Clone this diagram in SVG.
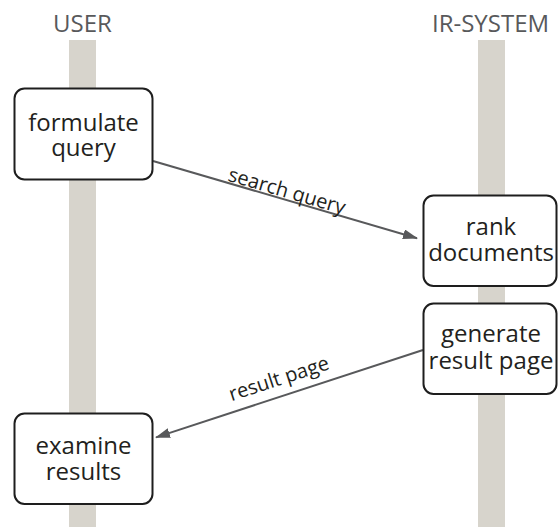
<svg xmlns="http://www.w3.org/2000/svg" width="558" height="527" viewBox="0 0 558 527">
  <defs>
    <marker id="arrow" markerUnits="userSpaceOnUse" markerWidth="16" markerHeight="11" refX="14" refY="5" orient="auto">
      <path d="M0,0 L15,5 L0,10 Z" fill="#58595b"/>
    </marker>
    <style>
      .lifeline { fill: #d7d4cc; }
      .actor { font-family: "Open Sans", "Liberation Sans", sans-serif; font-size: 24px; fill: #58595b; text-anchor: middle; }
      .box { fill: #ffffff; stroke: #1e1e1e; stroke-width: 2; }
      .box-text { font-family: "Open Sans", "Liberation Sans", sans-serif; font-size: 24px; fill: #231f20; text-anchor: middle; }
      .msg { fill: none; stroke: #58595b; stroke-width: 2; marker-end: url(#arrow); }
      .msg-label { font-family: "Open Sans", "Liberation Sans", sans-serif; font-size: 20px; fill: #231f20; text-anchor: middle; }
    </style>
  </defs>

  <rect width="558" height="527" fill="#ffffff"/>

  <!-- lifelines -->
  <g id="lifelines">
    <rect class="lifeline" x="69" y="40" width="27" height="487"/>
    <rect class="lifeline" x="478" y="40" width="27" height="487"/>
  </g>

  <!-- actor headings -->
  <g id="actor-user">
    <text class="actor" x="82.5" y="31.5">USER</text>
  </g>
  <g id="actor-ir-system">
    <text class="actor" x="490.5" y="31.5">IR-SYSTEM</text>
  </g>

  <!-- messages -->
  <g id="connectors">
    <line class="msg" x1="153" y1="161" x2="417" y2="238.2"/>
    <text class="msg-label" x="285" y="197.5" transform="rotate(16.3 285 197.5)">search query</text>
    <line class="msg" x1="423" y1="350" x2="156" y2="437.4"/>
    <text class="msg-label" x="281" y="385" transform="rotate(-18.1 281 385)">result page</text>
  </g>

  <!-- activities -->
  <g id="node-formulate-query">
    <rect class="box" x="14.5" y="88.5" width="138" height="91" rx="10"/>
    <text class="box-text" x="83.5" y="130.5">formulate</text>
    <text class="box-text" x="83.5" y="156">query</text>
  </g>
  <g id="node-rank-documents">
    <rect class="box" x="423.5" y="195.5" width="133" height="90.5" rx="10"/>
    <text class="box-text" x="491" y="235">rank</text>
    <text class="box-text" x="491" y="261">documents</text>
  </g>
  <g id="node-generate-result-page">
    <rect class="box" x="423.5" y="303.5" width="133" height="90.5" rx="10"/>
    <text class="box-text" x="491" y="342">generate</text>
    <text class="box-text" x="491" y="369">result page</text>
  </g>
  <g id="node-examine-results">
    <rect class="box" x="14.5" y="413.5" width="138" height="90.5" rx="10"/>
    <text class="box-text" x="83.5" y="454">examine</text>
    <text class="box-text" x="83.5" y="480">results</text>
  </g>
</svg>
